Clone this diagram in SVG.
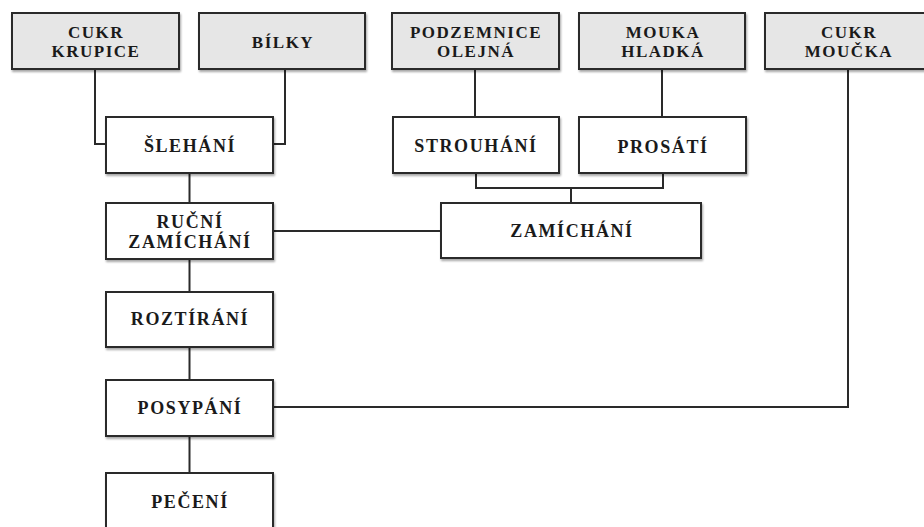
<svg xmlns="http://www.w3.org/2000/svg" width="924" height="527" viewBox="0 0 924 527">
<defs>
<filter id="sh" x="-5%" y="-10%" width="112%" height="130%">
<feGaussianBlur in="SourceAlpha" stdDeviation="1.2"/>
<feOffset dx="1" dy="1.5" result="b"/>
<feComponentTransfer><feFuncA type="linear" slope="0.35"/></feComponentTransfer>
<feMerge><feMergeNode/><feMergeNode in="SourceGraphic"/></feMerge>
</filter>
</defs>
<style>
.in{fill:#e6e6e6;stroke:#2a2a2a;stroke-width:2;filter:url(#sh)}
.op{fill:#ffffff;stroke:#2a2a2a;stroke-width:2;filter:url(#sh)}
text{font-family:"Liberation Serif","Times New Roman",serif;font-weight:bold;fill:#1a1a1a;text-anchor:middle}
.t1{font-size:17px;letter-spacing:1.5px}
.t2{font-size:18px;letter-spacing:1.6px}
.c{fill:none;stroke:#2a2a2a;stroke-width:2}
</style>
<rect width="924" height="527" fill="#ffffff"/>
<g id="connectors">
<path class="c" d="M95 69 V144 H106"/>
<path class="c" d="M285 69 V144 H273"/>
<path class="c" d="M189.5 173 V203"/>
<path class="c" d="M189.5 259 V292"/>
<path class="c" d="M189.5 347 V380"/>
<path class="c" d="M189.5 436 V473"/>
<path class="c" d="M475 69 V117"/>
<path class="c" d="M662 69 V117"/>
<path class="c" d="M476 173 V188 H663 V173"/>
<path class="c" d="M571 188 V203"/>
<path class="c" d="M273 231 H441"/>
<path class="c" d="M848 69 V407 H273"/>
</g>
<g id="cukr-krupice"><rect class="in" x="12" y="13" width="167" height="56"/><text class="t1" x="96" y="38">CUKR</text><text class="t1" x="96" y="57">KRUPICE</text></g>
<g id="bilky"><rect class="in" x="199" y="13" width="166" height="56"/><text class="t1" x="283" y="48">BÍLKY</text></g>
<g id="podzemnice"><rect class="in" x="392" y="13" width="167" height="56"/><text class="t1" x="476" y="38">PODZEMNICE</text><text class="t1" x="476" y="57">OLEJNÁ</text></g>
<g id="mouka"><rect class="in" x="579" y="13" width="166" height="56"/><text class="t1" x="663" y="38">MOUKA</text><text class="t1" x="663" y="57">HLADKÁ</text></g>
<g id="cukr-moucka"><rect class="in" x="765" y="13" width="167" height="56"/><text class="t1" x="849" y="38">CUKR</text><text class="t1" x="849" y="57">MOUČKA</text></g>
<g id="slehani"><rect class="op" x="106" y="117" width="167" height="56"/><text class="t2" x="190" y="152">ŠLEHÁNÍ</text></g>
<g id="strouhani"><rect class="op" x="393" y="117" width="166" height="56"/><text class="t2" x="476" y="152">STROUHÁNÍ</text></g>
<g id="prosati"><rect class="op" x="579" y="117" width="167" height="56"/><text class="t2" x="663" y="153">PROSÁTÍ</text></g>
<g id="rucni-zamichani"><rect class="op" x="106" y="203" width="167" height="56"/><text class="t2" x="190" y="228">RUČNÍ</text><text class="t2" x="190" y="248">ZAMÍCHÁNÍ</text></g>
<g id="zamichani"><rect class="op" x="441" y="203" width="260" height="55"/><text class="t2" x="572" y="237">ZAMÍCHÁNÍ</text></g>
<g id="roztirani"><rect class="op" x="106" y="292" width="167" height="55"/><text class="t2" x="190" y="325">ROZTÍRÁNÍ</text></g>
<g id="posypani"><rect class="op" x="106" y="380" width="167" height="56"/><text class="t2" x="190" y="414">POSYPÁNÍ</text></g>
<g id="peceni"><rect class="op" x="106" y="473" width="167" height="57"/><text class="t2" x="190" y="508">PEČENÍ</text></g>
</svg>
